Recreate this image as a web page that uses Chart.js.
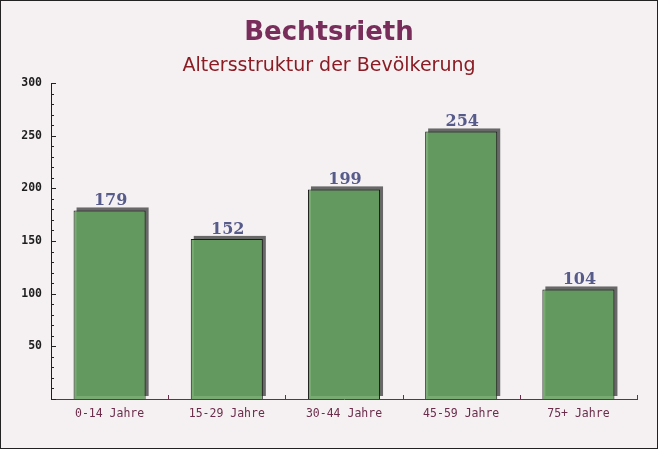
<!DOCTYPE html>
<html>
<head>
<meta charset="utf-8">
<script src="https://cdn.jsdelivr.net/npm/chart.js@4/dist/chart.umd.min.js"></script>
<style>
    html, body {
        margin: 0;
        padding: 0;
        background: #f4f0f2;
    }
    #wrap {
        width: 658px;
        height: 449px;
        position: relative;
    }
</style>
</head>
<body>
<div id="wrap">
    <canvas id="ageChart"></canvas>
</div>
<script>
// ===============================
// DATA
// ===============================

const categories = [
    '0-14 Jahre',
    '15-29 Jahre',
    '30-44 Jahre',
    '45-59 Jahre',
    '75+ Jahre'
];

const population = [179, 152, 199, 254, 104];

const yMax = 300;
const yStep = 50;
const yMinorStep = 10;

const titleText = 'Bechtsrieth';
const subtitleText = 'Altersstruktur der Bevölkerung';

// ===============================
// PLUGINS
// ===============================

// page background, frame and the two title lines
const frameAndTitles = {
    id: 'frameAndTitles',
    beforeDraw(chart) {
        const ctx = chart.ctx;
        ctx.save();
        ctx.fillStyle = '#f5f1f3';
        ctx.fillRect(0, 0, chart.width, chart.height);
        ctx.strokeStyle = '#222';
        ctx.lineWidth = 1;
        ctx.strokeRect(0.5, 0.5, chart.width - 1, chart.height - 1);
        ctx.restore();
    },
    afterDraw(chart) {
        const ctx = chart.ctx;
        const cx = chart.width / 2;
        ctx.save();
        ctx.textAlign = 'center';
        ctx.textBaseline = 'alphabetic';

        ctx.fillStyle = '#782d5a';
        ctx.font = 'bold 26px "DejaVu Sans"';
        ctx.fillText(titleText, cx, 40);

        ctx.fillStyle = '#8b1c24';
        ctx.font = '19px "DejaVu Sans"';
        ctx.fillText(subtitleText, cx, 71);

        ctx.restore();
    }
};

// grey block behind every bar (3d look)
const barShadow = {
    id: 'barShadow',
    beforeDatasetsDraw(chart) {
        const ctx = chart.ctx;
        const meta = chart.getDatasetMeta(0);
        ctx.save();
        ctx.fillStyle = '#686868';
        meta.data.forEach(bar => {
            const w = bar.width;
            const left = bar.x - w / 2;
            ctx.fillRect(left + 3, bar.y - 3, w, bar.base - bar.y);
        });
        ctx.restore();
    }
};

// small inward ticks on both axes
const axisTicks = {
    id: 'axisTicks',
    afterDatasetsDraw(chart) {
        const ctx = chart.ctx;
        const y = chart.scales.y;
        const x = chart.scales.x;
        ctx.save();

        ctx.strokeStyle = '#222';
        ctx.lineWidth = 1;
        for (let v = 0; v <= yMax; v += yMinorStep) {
            const py = Math.round(y.getPixelForValue(v)) + 0.5;
            const len = (v % yStep === 0) ? 5 : 3;
            ctx.beginPath();
            ctx.moveTo(x.left, py);
            ctx.lineTo(x.left + len, py);
            ctx.stroke();
        }

        ctx.strokeStyle = '#6b2d4a';
        const step = (x.right - x.left) / categories.length;
        for (let i = 1; i <= categories.length; i++) {
            const px = Math.round(x.left + step * i) + 0.5;
            ctx.beginPath();
            ctx.moveTo(px, y.bottom);
            ctx.lineTo(px, y.bottom - 4);
            ctx.stroke();
        }

        ctx.restore();
    }
};

// value on top of each bar
const valueLabels = {
    id: 'valueLabels',
    afterDatasetsDraw(chart) {
        const ctx = chart.ctx;
        const meta = chart.getDatasetMeta(0);
        ctx.save();
        ctx.font = 'bold 16px "DejaVu Serif"';
        ctx.fillStyle = '#575b8a';
        ctx.textAlign = 'center';
        ctx.textBaseline = 'alphabetic';
        meta.data.forEach((bar, i) => {
            ctx.fillText(population[i], bar.x + 1, bar.y - 5);
        });
        ctx.restore();
    }
};

// ===============================
// CHART
// ===============================

const ctx = document.getElementById('ageChart');

new Chart(ctx, {
    type: 'bar',
    data: {
        labels: categories,
        datasets: [{
            data: population,
            backgroundColor: 'rgba(98,160,92,0.86)',
            borderColor: '#1a1a1a',
            borderWidth: 1,
            borderSkipped: 'bottom',
            categoryPercentage: 1,
            barPercentage: 0.615
        }]
    },
    options: {
        responsive: true,
        maintainAspectRatio: false,
        animation: false,

        layout: {
            padding: {
                left: 0,
                right: 21,
                top: 83,
                bottom: 0
            }
        },

        plugins: {
            legend: {
                display: false
            },
            tooltip: {
                enabled: false
            }
        },

        scales: {
            y: {
                min: 0,
                max: yMax,
                afterFit(scale) {
                    scale.width = 51;
                },
                grid: {
                    display: false,
                    drawTicks: false
                },
                border: {
                    display: true,
                    color: '#1e1e1e',
                    width: 1
                },
                ticks: {
                    stepSize: yStep,
                    padding: 9,
                    color: '#1e1e1e',
                    font: {
                        family: '"DejaVu Sans Mono"',
                        size: 11.5,
                        weight: 'bold'
                    },
                    callback: value => value === 0 ? '' : value
                }
            },
            x: {
                afterFit(scale) {
                    scale.height = 50;
                },
                grid: {
                    display: false,
                    drawTicks: false
                },
                border: {
                    display: true,
                    color: '#6b2d4a',
                    width: 1
                },
                ticks: {
                    padding: 8,
                    color: '#6b2d4a',
                    font: {
                        family: '"DejaVu Sans Mono"',
                        size: 11.5,
                        weight: 'normal'
                    }
                }
            }
        }
    },
    plugins: [frameAndTitles, barShadow, axisTicks, valueLabels]
});
</script>
</body>
</html>
